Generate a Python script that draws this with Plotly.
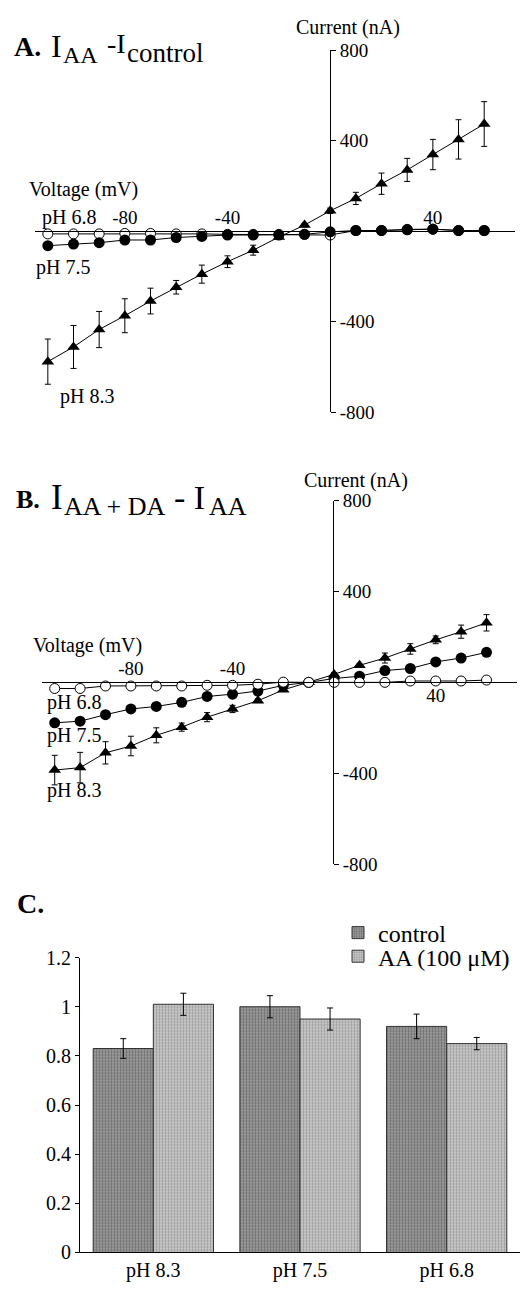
import plotly.graph_objects as go

# ---------------- data ----------------
voltages = [-110, -100, -90, -80, -70, -60, -50, -40, -30, -20, -10, 0, 10, 20, 30, 40, 50, 60]

# Panel A: I_AA - I_control (nA)
a_ph83 = [-577, -512, -435, -374, -309, -248, -190, -135, -84, -26, 27, 90, 145, 210, 271, 339, 406, 474]
a_ph83_err = [100, 95, 80, 75, 57, 30, 40, 26, 22, 10, 8, 12, 27, 47, 51, 67, 87, 99]
a_ph75 = [-64, -57, -51, -39, -39, -28, -23, -17, -17, -17, -14, -3, 3, 3, 6, 9, 3, 3]
a_ph68 = [-12, -12, -12, -10, -10, -12, -12, -14, -14, -14, -14, -17, 3, 3, 8, 9, 3, 3]

# Panel B: I_AA+DA - I_AA (nA)
b_ph83 = [-386, -375, -310, -280, -233, -197, -153, -117, -81, -33, 0, 35, 75, 107, 147, 187, 223, 262]
b_ph83_err = [65, 67, 49, 43, 33, 18, 20, 16, 8, 6, 4, 8, 6, 22, 23, 17, 29, 36]
b_ph75 = [-178, -171, -142, -117, -106, -88, -62, -52, -38, -13, 0, 17, 27, 52, 61, 90, 107, 132]
b_ph68 = [-27, -27, -16, -16, -16, -16, -13, -13, -8, 1, 0, 0, 0, 0, 6, 6, 6, 10]

# Panel C: bars
bar_categories = ["pH 8.3", "pH 7.5", "pH 6.8"]
control_vals = [0.83, 1.00, 0.92]
control_err = [0.04, 0.045, 0.05]
aa_vals = [1.01, 0.95, 0.85]
aa_err = [0.045, 0.045, 0.025]

iv_y_ticks = [-800, -400, 400, 800]
iv_y_ticktext = ["-800", "-400", "400", "800"]
a_x_ticks = [-80, -40, 40]
a_x_ticktext = ["-80", "-40", "40"]
b_x_ticks_top = [-80, -40]
b_x_ticktext_top = ["-80", "-40"]
b_x_ticks_bottom = [40]
b_x_ticktext_bottom = ["40"]
bar_y_ticks = [0, 0.2, 0.4, 0.6, 0.8, 1.0, 1.2]

# ---------------- layout helpers ----------------
W, H = 529, 1291
FONT = "Liberation Serif, Times New Roman, serif"


def fx(px):
    return px / W


def fy(py):
    return 1 - py / H


fig = go.Figure()


def add_iv(xa, ya, open_y, fill_y, tri_y, tri_err, open_xa=None):
    fig.add_trace(go.Scatter(
        x=voltages, y=open_y, xaxis=open_xa or xa, yaxis=ya, mode="lines+markers",
        line=dict(color="black", width=1),
        marker=dict(symbol="circle", size=10, color="white", line=dict(color="black", width=1)),
        showlegend=False, hoverinfo="skip"))
    fig.add_trace(go.Scatter(
        x=voltages, y=fill_y, xaxis=xa, yaxis=ya, mode="lines+markers",
        line=dict(color="black", width=1),
        marker=dict(symbol="circle", size=11, color="black"),
        showlegend=False, hoverinfo="skip"))
    fig.add_trace(go.Scatter(
        x=voltages, y=tri_y, xaxis=xa, yaxis=ya, mode="lines+markers",
        line=dict(color="black", width=1),
        marker=dict(symbol="triangle-up", size=11, color="black"),
        error_y=dict(type="data", array=tri_err, visible=True, color="black", thickness=1, width=3),
        showlegend=False, hoverinfo="skip"))


add_iv("x", "y", a_ph68, a_ph75, a_ph83, a_ph83_err)
add_iv("x2", "y2", b_ph68, b_ph75, b_ph83, b_ph83_err, open_xa="x3")

fig.add_trace(go.Bar(
    x=bar_categories, y=control_vals, name="control", xaxis="x4", yaxis="y4", legend="legend",
    marker=dict(color="#8c8c8c", line=dict(color="#333333", width=1),
                pattern=dict(shape=".", size=3, solidity=0.45, fgcolor="#6a6a6a",
                             bgcolor="#a2a2a2", fillmode="replace")),
    error_y=dict(type="data", array=control_err, visible=True, color="black", thickness=1, width=3)))
fig.add_trace(go.Bar(
    x=bar_categories, y=aa_vals, name="AA (100 \u03bcM)", xaxis="x4", yaxis="y4", legend="legend2",
    marker=dict(color="#bababa", line=dict(color="#333333", width=1),
                pattern=dict(shape=".", size=3, solidity=0.45, fgcolor="#9a9a9a",
                             bgcolor="#cfcfcf", fillmode="replace")),
    error_y=dict(type="data", array=aa_err, visible=True, color="black", thickness=1, width=3)))

tick_font = dict(family=FONT, size=19, color="black")
bar_tick_font = dict(family=FONT, size=20, color="black")
xr = [-115, 72]

common_x = dict(range=xr, showgrid=False, zeroline=False, showline=True, linecolor="black",
                linewidth=1, ticks="", tickfont=tick_font, fixedrange=True)
common_y = dict(range=[-800, 800], showgrid=False, zeroline=False, showline=True,
                linecolor="black", linewidth=1, ticks="outside", ticklen=5, tickcolor="black",
                tickvals=iv_y_ticks, ticktext=iv_y_ticktext, tickfont=tick_font,
                side="right", anchor="free", fixedrange=True)

legend_common = dict(xanchor="left", yanchor="middle",
                     font=dict(family=FONT, size=24, color="black"),
                     bgcolor="rgba(0,0,0,0)", itemwidth=30)

fig.update_layout(
    width=W, height=H,
    margin=dict(l=0, r=0, t=0, b=0),
    paper_bgcolor="white", plot_bgcolor="rgba(0,0,0,0)",
    font=dict(family=FONT, color="black"),
    barmode="group", bargap=0.18, bargroupgap=0,
    xaxis=dict(common_x, domain=[fx(35), fx(515)], anchor="free", position=fy(224),
               side="top", tickvals=a_x_ticks, ticktext=a_x_ticktext),
    yaxis=dict(common_y, domain=[fy(408), fy(40)], position=fx(330)),
    xaxis2=dict(common_x, domain=[fx(42), fx(517)], anchor="free", position=fy(683),
                side="top", tickvals=b_x_ticks_top, ticktext=b_x_ticktext_top),
    xaxis3=dict(common_x, overlaying="x2", anchor="free", position=fy(683),
                side="bottom", tickvals=b_x_ticks_bottom, ticktext=b_x_ticktext_bottom,
                showline=False),
    yaxis2=dict(common_y, domain=[fy(868), fy(498)], position=fx(333)),
    xaxis4=dict(domain=[fx(80), fx(520)], anchor="y4", type="category", showline=True,
                linecolor="black", linewidth=1, ticks="", showgrid=False, tickfont=bar_tick_font,
                fixedrange=True),
    yaxis4=dict(domain=[fy(1263), fy(963)], anchor="x4", range=[0, 1.2], showline=True,
                linecolor="black", linewidth=1, ticks="outside", ticklen=4, tickcolor="black",
                tickvals=bar_y_ticks, showgrid=False, zeroline=False, tickfont=bar_tick_font,
                fixedrange=True),
    legend=dict(legend_common, x=fx(338), y=fy(938)),
    legend2=dict(legend_common, x=fx(338), y=fy(962)),
)

ann = []


def text(t, x, y, size=20, xanchor="center", yanchor="middle"):
    ann.append(dict(text=t, x=fx(x), y=fy(y), xref="paper", yref="paper", showarrow=False,
                    xanchor=xanchor, yanchor=yanchor,
                    font=dict(family=FONT, size=size, color="black")))


# Panel A title pieces
text("<b>A.</b>", 12, 36.5, size=28, xanchor="left")
text("I", 49, 35.5, size=32, xanchor="left")
text("AA", 61, 45, size=24, xanchor="left")
text("-I", 105, 33, size=28, xanchor="left")
text("control", 125, 42.5, size=27, xanchor="left")

# Panel B title pieces
text("<b>B.</b>", 14, 496.5, size=26, xanchor="left")
text("I", 49, 494.5, size=35, xanchor="left")
text("AA + DA", 62, 504, size=26, xanchor="left")
text("- I", 172, 494.5, size=34, xanchor="left")
text("AA", 207, 504, size=26, xanchor="left")

# Panel C label
text("<b>C.</b>", 15, 908, size=28, xanchor="left")

text("Current (nA)", 348, 17)
text("Current (nA)", 356, 478)
text("Voltage (mV)", 83, 182)
text("Voltage (mV)", 87, 645)

text("pH 6.8", 69, 210)
text("pH 7.5", 63, 261)
text("pH 8.3", 87, 392)
text("pH 6.8", 74, 703)
text("pH 7.5", 74, 737)
text("pH 8.3", 74, 793)

fig.update_layout(annotations=ann)

fig.write_html("out.html", config={"displayModeBar": False},
               post_script="document.body.style.margin='0';document.body.style.overflow='hidden';")
